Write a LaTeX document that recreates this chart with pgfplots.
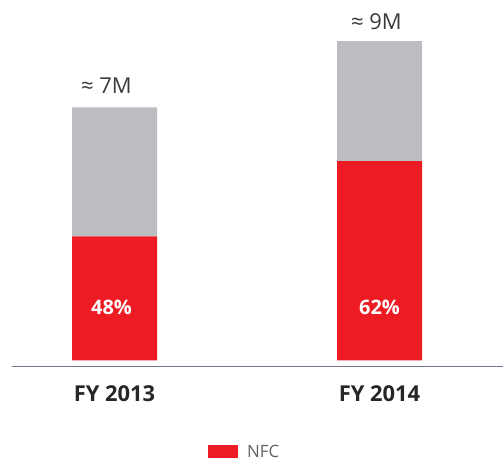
\documentclass[border=0pt]{standalone}
\usepackage{pgfplots}
\pgfplotsset{compat=1.18}
\usepackage{fontspec}
\setmainfont{Open Sans}
\definecolor{nfcred}{HTML}{ED1C24}
\definecolor{bargrey}{HTML}{BCBDC0}
\definecolor{axisline}{HTML}{74748A}
\definecolor{txtgrey}{HTML}{3A3A3A}
\begin{document}
\begin{tikzpicture}
\useasboundingbox (0,0) rectangle (503bp,462bp);
\begin{axis}[
  at={(12bp,95.7bp)}, anchor=south west,
  scale only axis, width=491bp, height=366bp,
  ybar stacked, bar width=85bp,
  xmin=-0.3868, xmax=1.466, ymin=-0.166, ymax=9.96,
  axis y line=none, axis x line=bottom,
  x axis line style={-, draw=axisline, line width=0.8bp},
  xtick={0,1}, xticklabels={FY 2013, FY 2014}, major tick length=0pt,
  xticklabel style={anchor=base, yshift=-35bp, font=\fontsize{22}{24}\selectfont\bfseries, text=black!85},
  clip=false,
  legend style={at={(0.399,-0.2336)}, anchor=west, draw=none, fill=none, inner sep=0pt,
    font=\fontsize{17}{20}\selectfont, text=black!62,
    /tikz/every odd column/.style={column sep=7bp}},
  legend image code/.code={\fill[nfcred] (0bp,-6.5bp) rectangle (30bp,6.5bp);},
  after end axis/.code={
    \node[anchor=base, text=txtgrey, yshift=14bp, xshift=-8bp, font=\fontsize{22}{24}\selectfont] at (axis cs:0,7) {≈ 7M};
    \node[anchor=base, text=txtgrey, yshift=12bp, xshift=-3bp, font=\fontsize{22}{24}\selectfont] at (axis cs:1,8.83) {≈ 9M};
    \node[anchor=base, text=white, yshift=46bp, xshift=-3bp, font=\fontsize{20}{22}\selectfont\bfseries] at (axis cs:0,0) {48\%};
    \node[anchor=base, text=white, yshift=46bp, font=\fontsize{20}{22}\selectfont\bfseries] at (axis cs:1,0) {62\%};
  },
]
% NFC share (M)
\addplot[fill=nfcred, draw=none] coordinates {(0,3.43) (1,5.51)};
% remainder
\addplot[fill=bargrey, draw=none] coordinates {(0,3.57) (1,3.32)};
\legend{NFC}
\end{axis}
\end{tikzpicture}
\end{document}
